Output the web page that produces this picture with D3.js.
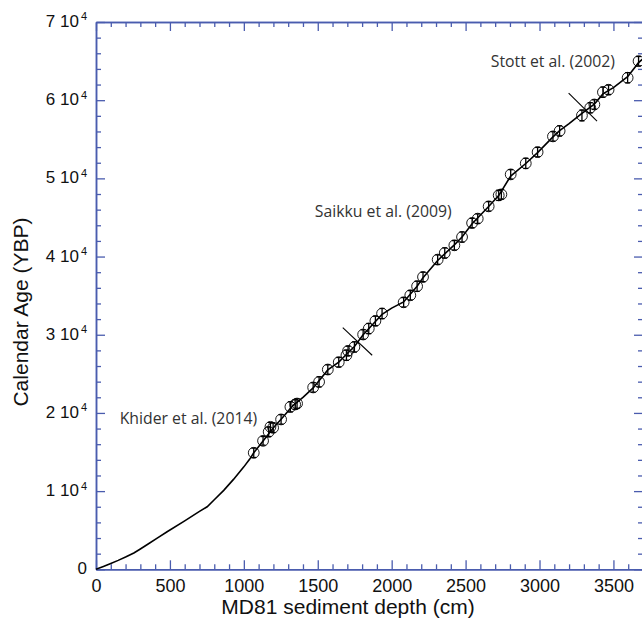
<!DOCTYPE html>
<html>
<head>
<meta charset="utf-8">
<script src="https://cdn.jsdelivr.net/npm/d3@7"></script>
<style>
  html, body { margin: 0; padding: 0; background: #fff; }
  svg { display: block; }
</style>
</head>
<body>
<svg id="chart" width="642" height="627"></svg>
<script>
// ---- Data ----
// Age-model curve (depth in cm, calendar age in years BP)
const lineDepth = [0, 50, 100, 150, 200, 256, 300, 350, 414, 481, 600, 700, 752, 800, 864, 930, 1000, 1040, 1067,
  1130, 1200, 1252, 1330, 1400, 1469, 1568, 1642, 1700, 1748, 1807, 1890, 1935, 2000, 2081,
  2172, 2212, 2311, 2424, 2476, 2544, 2656, 2724, 2805, 2907, 2987, 3091, 3136, 3200, 3287,
  3371, 3429, 3500, 3596, 3670, 3700];
const lineAge = [0, 360, 740, 1140, 1570, 2080, 2600, 3200, 3980, 4800, 6200, 7400, 8000, 8900, 10100, 11500, 13100, 14100, 14900,
  16400, 18100, 19200, 20900, 22000, 23200, 25500, 26500, 27600, 28500, 30000, 31700, 32600, 33400, 34200,
  36200, 37300, 39500, 41500, 42500, 44200, 46400, 47800, 50300, 51900, 53300, 55300, 56100, 57000, 58300,
  59500, 60800, 61600, 63000, 64800, 65300];

// Dated control points with 1-sigma age errors
const pointDepth = [1067, 1130, 1168, 1180, 1198, 1252, 1315, 1347, 1360, 1469, 1509, 1568, 1642, 1694, 1705,
  1748, 1807, 1845, 1890, 1935, 2081, 2126, 2172, 2212, 2311, 2359, 2424, 2476, 2544, 2582,
  2656, 2724, 2742, 2805, 2907, 2987, 3091, 3136, 3287, 3343, 3371, 3429, 3467, 3596, 3670];
const pointAge = [14900, 16430, 17580, 18220, 18100, 19170, 20780, 21080, 21200, 23260, 23970, 25550, 26490, 27380, 27930,
  28440, 30030, 30790, 31770, 32710, 34150, 35050, 36200, 37390, 39610, 40460, 41440, 42500, 44290, 44850,
  46420, 47830, 47950, 50510, 51920, 53360, 55370, 56070, 58050, 59030, 59450, 61030, 61330, 62870, 64990];
const pointErr = [600, 550, 600, 550, 600, 600, 650, 600, 600, 600, 650, 600, 600, 650, 600,
  650, 600, 650, 600, 650, 600, 600, 650, 600, 600, 650, 600, 650, 600, 600,
  600, 650, 600, 600, 650, 600, 600, 650, 700, 650, 600, 650, 600, 650, 600];

// Cross marks at the boundaries between age-model sections
const crossDepth0 = [1669, 3197];
const crossAge0   = [30920, 60900];
const crossDepth1 = [1868, 3389];
const crossAge1   = [27380, 57320];

// Section annotations
const noteText  = ["Stott et al. (2002)", "Saikku et al. (2009)", "Khider et al. (2014)"];
const noteDepth = [2670, 1480, 160];
const noteAge   = [64300, 45000, 18600];

// Axes
const xMajor = [0, 500, 1000, 1500, 2000, 2500, 3000, 3500];
const xMinor = d3.range(0, 3701, 100).filter(v => v % 500 !== 0);
const yMajor = [0, 10000, 20000, 30000, 40000, 50000, 60000, 70000];
const yMinor = d3.range(0, 70001, 2000).filter(v => v % 10000 !== 0);
const yMantissa = ["0", "1 10", "2 10", "3 10", "4 10", "5 10", "6 10", "7 10"];
const yExponent = ["", "4", "4", "4", "4", "4", "4", "4"];
const xTitle = "MD81 sediment depth (cm)";
const yTitle = "Calendar Age (YBP)";

// ---- Layout ----
const L = 96, R = 643, T = 22, B = 569.3;
const axisColor = "#4a5cae";

const svg = d3.select("#chart");
const x = d3.scaleLinear().domain([0, 3700]).range([L, R]);
const y = d3.scaleLinear().domain([0, 70000]).range([B, T]);

function styleAxis(g) {
  g.selectAll("path.domain").attr("stroke", axisColor).attr("stroke-width", 1.5);
  g.selectAll(".tick line").attr("stroke", axisColor).attr("stroke-width", 1.3);
}

// bottom
svg.append("g").attr("transform", `translate(0,${B})`)
  .call(d3.axisBottom(x).tickValues(xMinor).tickSize(-5).tickSizeOuter(0).tickFormat(""))
  .call(styleAxis);
const gx = svg.append("g").attr("transform", `translate(0,${B})`)
  .call(d3.axisBottom(x).tickValues(xMajor).tickSize(-9).tickSizeOuter(0).tickPadding(9.5)
    .tickFormat(d3.format("d")))
  .call(styleAxis);
gx.selectAll(".tick text").attr("font-family", "Liberation Sans, Arial, sans-serif")
  .attr("font-size", 18).attr("fill", "#111");

// top
svg.append("g").attr("transform", `translate(0,${T})`)
  .call(d3.axisTop(x).tickValues(xMinor).tickSize(-5).tickSizeOuter(0).tickFormat(""))
  .call(styleAxis);
svg.append("g").attr("transform", `translate(0,${T})`)
  .call(d3.axisTop(x).tickValues(xMajor).tickSize(-9).tickSizeOuter(0).tickFormat(""))
  .call(styleAxis);

// left
svg.append("g").attr("transform", `translate(${L},0)`)
  .call(d3.axisLeft(y).tickValues(yMinor).tickSize(-5).tickSizeOuter(0).tickFormat(""))
  .call(styleAxis);
const gy = svg.append("g").attr("transform", `translate(${L},0)`)
  .call(d3.axisLeft(y).tickValues(yMajor).tickSize(-9).tickSizeOuter(0).tickPadding(9).tickFormat(""))
  .call(styleAxis);
gy.selectAll(".tick text").each(function(d, i) {
  const t = d3.select(this)
    .attr("font-family", "Liberation Sans, Arial, sans-serif")
    .attr("font-size", 17).attr("fill", "#111")
    .attr("dy", "0.27em").attr("text-anchor", "end");
  t.append("tspan").text(yMantissa[i]);
  if (yExponent[i]) {
    t.append("tspan").attr("font-size", 11).attr("dx", 2).attr("dy", -6.7).text(yExponent[i]);
  }
});

// right
svg.append("g").attr("transform", `translate(${R},0)`)
  .call(d3.axisRight(y).tickValues(yMinor).tickSize(-5).tickSizeOuter(0).tickFormat(""))
  .call(styleAxis);
svg.append("g").attr("transform", `translate(${R},0)`)
  .call(d3.axisRight(y).tickValues(yMajor).tickSize(-9).tickSizeOuter(0).tickFormat(""))
  .call(styleAxis);

// titles
svg.append("text").attr("x", 348).attr("y", 614).attr("text-anchor", "middle")
  .attr("font-family", "Liberation Sans, Arial, sans-serif").attr("font-size", 21).attr("fill", "#111")
  .text(xTitle);
svg.append("text").attr("transform", "translate(28,312) rotate(-90)").attr("text-anchor", "middle")
  .attr("font-family", "Liberation Sans, Arial, sans-serif").attr("font-size", 21).attr("fill", "#111")
  .text(yTitle);

// age model line
const lineData = lineDepth.map((d, i) => [d, lineAge[i]]);
svg.append("path").datum(lineData)
  .attr("fill", "none").attr("stroke", "#000").attr("stroke-width", 1.6)
  .attr("d", d3.line().x(d => x(d[0])).y(d => y(d[1])));

// points
const pts = pointDepth.map((d, i) => ({ d, a: pointAge[i], e: pointErr[i] }));
const pg = svg.append("g").selectAll("g").data(pts).join("g");
pg.append("line").attr("x1", p => x(p.d)).attr("x2", p => x(p.d))
  .attr("y1", p => y(p.a - p.e)).attr("y2", p => y(p.a + p.e))
  .attr("stroke", "#000").attr("stroke-width", 1.3);
pg.append("line").attr("x1", p => x(p.d) - 2.5).attr("x2", p => x(p.d) + 2.5)
  .attr("y1", p => y(p.a - p.e)).attr("y2", p => y(p.a - p.e))
  .attr("stroke", "#000").attr("stroke-width", 1.3);
pg.append("line").attr("x1", p => x(p.d) - 2.5).attr("x2", p => x(p.d) + 2.5)
  .attr("y1", p => y(p.a + p.e)).attr("y2", p => y(p.a + p.e))
  .attr("stroke", "#000").attr("stroke-width", 1.3);
pg.append("circle").attr("cx", p => x(p.d)).attr("cy", p => y(p.a)).attr("r", 5.4)
  .attr("fill", "none").attr("stroke", "#000").attr("stroke-width", 0.9);

// cross marks
svg.append("g").selectAll("line").data(crossDepth0.map((d, i) => i)).join("line")
  .attr("x1", i => x(crossDepth0[i])).attr("y1", i => y(crossAge0[i]))
  .attr("x2", i => x(crossDepth1[i])).attr("y2", i => y(crossAge1[i]))
  .attr("stroke", "#000").attr("stroke-width", 1.1);

// annotations
svg.append("g").selectAll("text").data(noteText).join("text")
  .attr("x", (t, i) => x(noteDepth[i])).attr("y", (t, i) => y(noteAge[i]))
  .attr("font-family", "Open Sans, sans-serif").attr("font-size", 15.8).attr("fill", "#333")
  .text(t => t);
</script>
</body>
</html>
